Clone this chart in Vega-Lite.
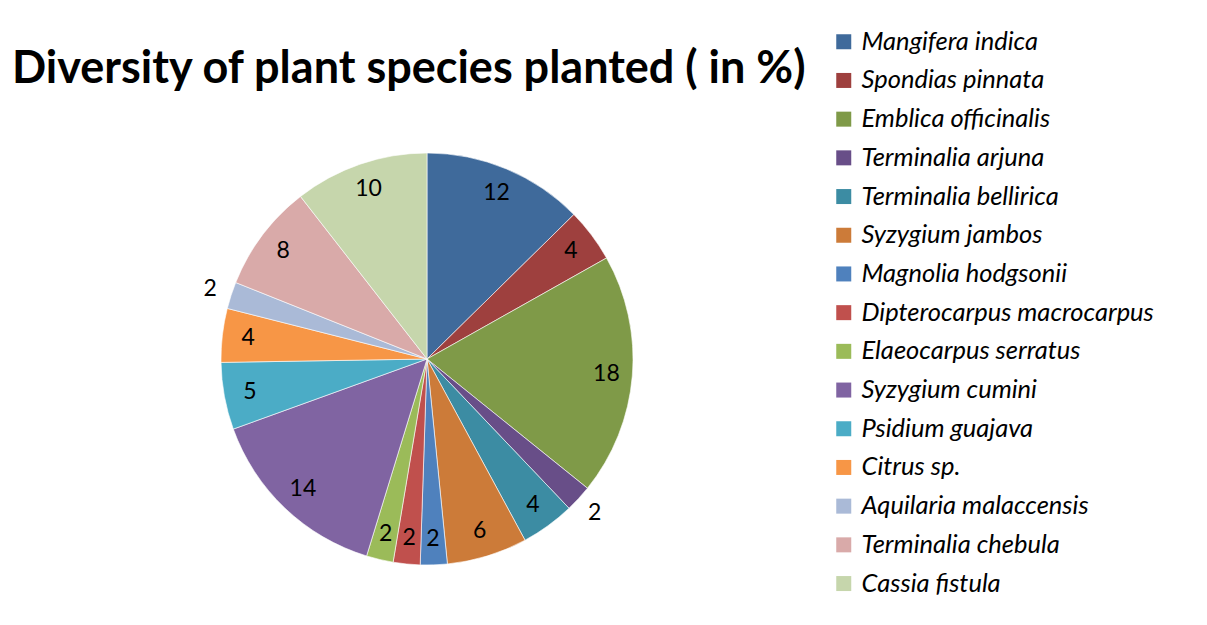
{
  "$schema": "https://vega.github.io/schema/vega-lite/v6.json",
  "width": 846,
  "height": 518,
  "autosize": {"type": "none"},
  "padding": {"left": 4, "top": 100, "right": 357, "bottom": 7},
  "background": "#ffffff",
  "config": {"view": {"stroke": null}},
  "title": {
    "text": "Diversity of plant species planted ( in %)",
    "anchor": "start",
    "frame": "group",
    "font": "Lato",
    "fontWeight": "bold",
    "fontSize": 45,
    "color": "#000000",
    "baseline": "bottom",
    "offset": 9,
    "dy": 117,
    "dx": 8
  },
  "data": {
    "values": [
      {"i": 1, "name": "Mangifera indica", "value": 12},
      {"i": 2, "name": "Spondias pinnata", "value": 4},
      {"i": 3, "name": "Emblica officinalis", "value": 18},
      {"i": 4, "name": "Terminalia arjuna", "value": 2},
      {"i": 5, "name": "Terminalia bellirica", "value": 4},
      {"i": 6, "name": "Syzygium jambos", "value": 6},
      {"i": 7, "name": "Magnolia hodgsonii", "value": 2},
      {"i": 8, "name": "Dipterocarpus macrocarpus", "value": 2},
      {"i": 9, "name": "Elaeocarpus serratus", "value": 2},
      {"i": 10, "name": "Syzygium cumini", "value": 14},
      {"i": 11, "name": "Psidium guajava", "value": 5},
      {"i": 12, "name": "Citrus sp.", "value": 4},
      {"i": 13, "name": "Aquilaria malaccensis", "value": 2},
      {"i": 14, "name": "Terminalia chebula", "value": 8},
      {"i": 15, "name": "Cassia fistula", "value": 10}
    ]
  },
  "encoding": {
    "theta": {"field": "value", "type": "quantitative", "stack": true},
    "order": {"field": "i", "type": "quantitative"}
  },
  "layer": [
    {
      "mark": {"type": "arc", "outerRadius": 206, "stroke": "#ffffff", "strokeWidth": 0.6},
      "encoding": {
        "color": {
          "field": "name",
          "type": "nominal",
          "scale": {
            "domain": ["Mangifera indica", "Spondias pinnata", "Emblica officinalis", "Terminalia arjuna", "Terminalia bellirica", "Syzygium jambos", "Magnolia hodgsonii", "Dipterocarpus macrocarpus", "Elaeocarpus serratus", "Syzygium cumini", "Psidium guajava", "Citrus sp.", "Aquilaria malaccensis", "Terminalia chebula", "Cassia fistula"],
            "range": ["#3F6A9B", "#9E403E", "#7F9A48", "#684E88", "#3C8CA3", "#CC7B39", "#4F81BD", "#C0504D", "#9BBB59", "#8064A2", "#4BACC6", "#F79646", "#AABAD7", "#D9AAA9", "#C6D6AC"]
          },
          "legend": {
            "title": null,
            "orient": "none",
            "legendX": 827,
            "legendY": -71,
            "symbolType": "square",
            "symbolSize": 225,
            "symbolStrokeWidth": 0,
            "labelFont": "Lato",
            "labelFontStyle": "italic",
            "labelFontSize": 25.5,
            "labelColor": "#000000",
            "labelLimit": 400,
            "labelOffset": 5,
            "rowPadding": 11.7
          }
        }
      }
    },
    {
      "mark": {"type": "text", "radius": 180, "font": "Lato", "fontSize": 23, "color": "#000000"},
      "encoding": {
        "text": {
          "condition": {"test": "datum.name !== 'Terminalia arjuna' && datum.name !== 'Aquilaria malaccensis'", "field": "value", "type": "quantitative"},
          "value": ""
        }
      }
    },
    {
      "mark": {"type": "text", "radius": 228, "font": "Lato", "fontSize": 23, "color": "#000000"},
      "encoding": {
        "text": {
          "condition": {"test": "datum.name === 'Terminalia arjuna' || datum.name === 'Aquilaria malaccensis'", "field": "value", "type": "quantitative"},
          "value": ""
        }
      }
    }
  ]
}
